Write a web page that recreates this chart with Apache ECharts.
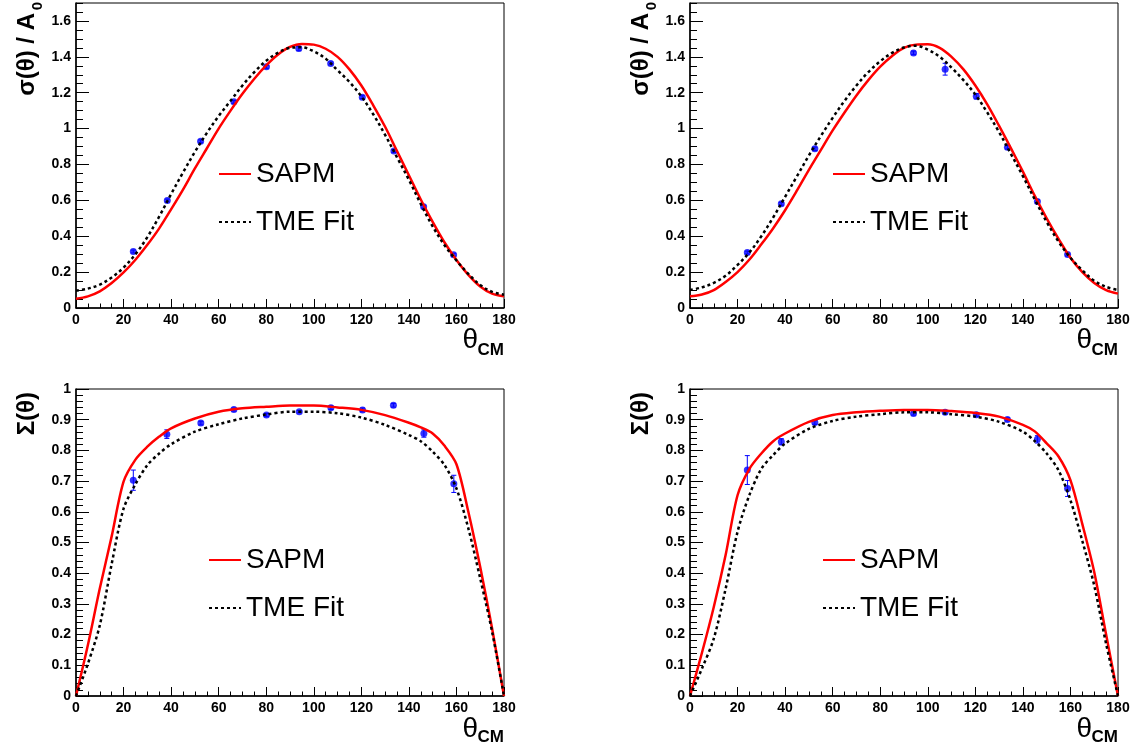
<!DOCTYPE html>
<html><head><meta charset="utf-8">
<script src="https://cdn.jsdelivr.net/npm/echarts@6/dist/echarts.min.js"></script>
<style>html,body{margin:0;padding:0;background:#fff}#c{width:1135px;height:754px}</style>
</head><body><div id="c"></div>
<script>
// ---------------- data ----------------
const thetaTop = [0,5,10,15,20,25,30,35,40,45,50,55,60,65,70,75,80,85,90,95,100,105,110,115,120,125,130,135,140,145,150,155,160,165,170,175,180];
const sapmTL = [0.052,0.065,0.093,0.139,0.198,0.269,0.352,0.444,0.55,0.66,0.778,0.889,1.0,1.10,1.194,1.278,1.352,1.413,1.455,1.472,1.468,1.445,1.40,1.33,1.24,1.13,1.01,0.875,0.74,0.605,0.48,0.365,0.268,0.185,0.12,0.08,0.065];
const tmeTL  = [0.096,0.108,0.13,0.17,0.225,0.30,0.395,0.51,0.635,0.755,0.87,0.975,1.07,1.155,1.24,1.315,1.378,1.423,1.45,1.453,1.43,1.39,1.325,1.26,1.18,1.08,0.965,0.84,0.715,0.58,0.455,0.35,0.265,0.19,0.128,0.09,0.074];
const sapmTR = [0.065,0.075,0.10,0.145,0.20,0.27,0.355,0.445,0.545,0.655,0.77,0.88,0.99,1.09,1.185,1.27,1.345,1.405,1.45,1.468,1.47,1.45,1.40,1.33,1.24,1.135,1.015,0.89,0.76,0.625,0.50,0.385,0.28,0.20,0.14,0.10,0.08];
const tmeTR  = [0.10,0.115,0.14,0.18,0.24,0.31,0.40,0.505,0.62,0.735,0.85,0.958,1.06,1.155,1.24,1.315,1.375,1.422,1.452,1.462,1.44,1.40,1.34,1.27,1.19,1.09,0.98,0.858,0.735,0.605,0.48,0.37,0.28,0.21,0.152,0.118,0.10];

const thetaBot = [0,5,10,15,20,25,30,35,40,50,60,70,80,90,100,110,120,130,140,145,150,155,160,165,170,175,180];
const sapmBL = [0,0.166,0.35,0.52,0.698,0.77,0.812,0.845,0.872,0.904,0.926,0.937,0.942,0.946,0.946,0.94,0.932,0.915,0.89,0.875,0.855,0.815,0.755,0.60,0.42,0.22,0];
const tmeBL  = [0,0.105,0.23,0.43,0.61,0.69,0.752,0.79,0.82,0.861,0.885,0.904,0.917,0.926,0.926,0.921,0.907,0.883,0.85,0.83,0.796,0.752,0.676,0.546,0.383,0.209,0];
const sapmBR = [0,0.14,0.29,0.46,0.654,0.74,0.79,0.83,0.855,0.893,0.915,0.924,0.929,0.932,0.932,0.928,0.922,0.91,0.883,0.862,0.823,0.78,0.703,0.56,0.404,0.20,0];
const tmeBR  = [0,0.089,0.187,0.35,0.535,0.655,0.74,0.785,0.822,0.87,0.896,0.91,0.918,0.924,0.924,0.918,0.91,0.893,0.861,0.83,0.79,0.735,0.638,0.505,0.36,0.17,0];

const ptThetaTL = [24.1,38.4,52.4,66.4,80.1,93.7,107.1,120.4,133.7,146.2,158.8];
const ptValTL   = [0.315,0.599,0.929,1.149,1.344,1.446,1.363,1.175,0.875,0.565,0.297];
const ptErrTL   = [0.008,0.008,0.008,0.008,0.008,0.012,0.008,0.008,0.008,0.008,0.008];
const ptThetaTR = [24.1,38.4,52.5,94.0,107.3,120.4,133.5,146.1,158.8];
const ptValTR   = [0.309,0.581,0.887,1.422,1.331,1.18,0.896,0.593,0.298];
const ptErrTR   = [0.008,0.008,0.01,0.01,0.033,0.015,0.01,0.01,0.008];
const ptThetaBL = [24.1,38.2,52.5,66.4,80.1,93.9,107.2,120.5,133.5,146.3,158.9];
const ptValBL   = [0.703,0.853,0.889,0.933,0.915,0.926,0.939,0.932,0.947,0.855,0.691];
const ptErrBL   = [0.033,0.014,0.006,0.005,0.005,0.004,0.006,0.006,0.006,0.012,0.028];
const ptThetaBR = [24.1,38.4,52.5,94.0,107.3,120.4,133.5,146.1,158.8];
const ptValBR   = [0.736,0.828,0.891,0.920,0.924,0.916,0.901,0.836,0.676];
const ptErrBR   = [0.047,0.01,0.006,0.005,0.005,0.005,0.005,0.012,0.026];

const legendNames = ['SAPM','TME Fit'];
const xTicks = {min:0, max:180, major:20, minor:5};
const yTicksTop = {min:0, max:1.7, major:0.2, minor:0.05};
const yTicksBot = {min:0, max:1, major:0.1, minor:0.02};

// ---------------- build ----------------
const FONT = "'Liberation Sans', Arial, Helvetica, sans-serif";
const panels = [
  {grid:{left:76, top:3, width:428, height:305}, th:thetaTop, sapm:sapmTL, tme:tmeTL, px:ptThetaTL, pv:ptValTL, pe:ptErrTL, yt:yTicksTop, leg:{left:218, top:158}},
  {grid:{left:690, top:3, width:428, height:305}, th:thetaTop, sapm:sapmTR, tme:tmeTR, px:ptThetaTR, pv:ptValTR, pe:ptErrTR, yt:yTicksTop, leg:{left:832, top:158}},
  {grid:{left:76, top:389, width:428, height:307}, th:thetaBot, sapm:sapmBL, tme:tmeBL, px:ptThetaBL, pv:ptValBL, pe:ptErrBL, yt:yTicksBot, leg:{left:208, top:544}},
  {grid:{left:690, top:389, width:428, height:307}, th:thetaBot, sapm:sapmBR, tme:tmeBR, px:ptThetaBR, pv:ptValBR, pe:ptErrBR, yt:yTicksBot, leg:{left:822, top:544}}
];

const grids=[], xAxes=[], yAxes=[], series=[], legends=[];
const labelStyle = {fontSize:14, fontWeight:'bold', color:'#000', fontFamily:FONT};

function errRender(params, api){
  const x = api.value(0), lo = api.value(1), hi = api.value(2);
  const p1 = api.coord([x, lo]), p2 = api.coord([x, hi]);
  const cw = 2.5, st = {stroke:'#0000ff', lineWidth:1};
  return {type:'group', children:[
    {type:'line', shape:{x1:p1[0],y1:p1[1],x2:p2[0],y2:p2[1]}, style:st},
    {type:'line', shape:{x1:p1[0]-cw,y1:p1[1],x2:p1[0]+cw,y2:p1[1]}, style:st},
    {type:'line', shape:{x1:p2[0]-cw,y1:p2[1],x2:p2[0]+cw,y2:p2[1]}, style:st}
  ]};
}

panels.forEach((p,i)=>{
  grids.push(Object.assign({show:true, borderColor:'#000', borderWidth:1, backgroundColor:'transparent'}, p.grid));
  xAxes.push({gridIndex:i, type:'value', position:'bottom', min:xTicks.min, max:xTicks.max, interval:xTicks.major,
    axisLine:{show:true, onZero:false, lineStyle:{color:'#000', width:1.5}},
    axisTick:{show:true, inside:true, length:9, lineStyle:{color:'#000', width:1}},
    axisLabel:Object.assign({margin:5}, labelStyle), splitLine:{show:false}});
  xAxes.push({gridIndex:i, type:'value', position:'bottom', min:xTicks.min, max:xTicks.max, interval:xTicks.minor,
    axisLine:{show:false}, axisTick:{show:true, inside:true, length:4.5, lineStyle:{color:'#000', width:1}},
    axisLabel:{show:false}, splitLine:{show:false}});
  yAxes.push({gridIndex:i, type:'value', position:'left', min:p.yt.min, max:p.yt.max, interval:p.yt.major,
    axisLine:{show:true, onZero:false, lineStyle:{color:'#000', width:1.5}},
    axisTick:{show:true, inside:true, length:13, lineStyle:{color:'#000', width:1}},
    axisLabel:Object.assign({margin:5, showMaxLabel: p.yt.max===1}, labelStyle), splitLine:{show:false}});
  yAxes.push({gridIndex:i, type:'value', position:'left', min:p.yt.min, max:p.yt.max, interval:p.yt.minor,
    axisLine:{show:false}, axisTick:{show:true, inside:true, length:7, lineStyle:{color:'#000', width:1}},
    axisLabel:{show:false}, splitLine:{show:false}});
  const xi = i*2, yi = i*2;
  series.push({name:'err'+i, type:'custom', xAxisIndex:xi, yAxisIndex:yi, renderItem:errRender,
    encode:{x:0, y:[1,2]}, z:1, silent:true,
    data:p.px.map((t,k)=>[t, p.pv[k]-p.pe[k], p.pv[k]+p.pe[k]])});
  series.push({name:'data'+i, type:'scatter', xAxisIndex:xi, yAxisIndex:yi, symbol:'circle', symbolSize:7,
    itemStyle:{color:'#0000ff'}, z:1, data:p.px.map((t,k)=>[t,p.pv[k]])});
  const sm = i<2 ? 0.35 : 0.3;
  series.push({name:legendNames[0], type:'line', xAxisIndex:xi, yAxisIndex:yi, symbol:'none', showSymbol:false, smooth:sm,
    lineStyle:{color:'#ff0000', width:2.5}, itemStyle:{color:'#ff0000'}, z:3,
    data:p.th.map((t,k)=>[t,p.sapm[k]])});
  series.push({name:legendNames[1], type:'line', xAxisIndex:xi, yAxisIndex:yi, symbol:'none', showSymbol:false, smooth:sm,
    lineStyle:{color:'#000', width:2.5, type:[3,3]}, itemStyle:{color:'#000'}, z:4,
    data:p.th.map((t,k)=>[t,p.tme[k]])});
  legends.push({data:legendNames, orient:'vertical', left:p.leg.left, top:p.leg.top, padding:0,
    itemWidth:32, itemHeight:14, itemGap:16, selectedMode:false,
    itemStyle:{opacity:0, borderWidth:0},
    textStyle:{fontSize:28, fontFamily:FONT, color:'#000', lineHeight:32}});
});

// axis titles
const graphics = [];
const offs = [[0,0],[614,0],[0,386],[614,386]];
offs.forEach((o,i)=>{
  const top = i<2;
  if (top) {
    graphics.push({type:'text', x:27+o[0], y:13+o[1], rotation:Math.PI/2,
      style:{text:'σ(θ) / A', font:"bold 24px "+FONT, fill:'#000', align:'right', verticalAlign:'middle'}});
    graphics.push({type:'text', x:38+o[0], y:2+o[1], rotation:Math.PI/2,
      style:{text:'0', font:"bold 15px "+FONT, fill:'#000', align:'right', verticalAlign:'middle'}});
  } else {
    graphics.push({type:'text', x:27+o[0], y:392, rotation:Math.PI/2,
      style:{text:'Σ(θ)', font:"bold 24px "+FONT, fill:'#000', align:'right', verticalAlign:'middle'}});
  }
  const right = 504 + o[0];
  const cmY = top ? 350 : 737;
  const thY = top ? 340 : 729;
  graphics.push({type:'text', x:right, y:cmY, style:{text:'CM', font:"bold 17px "+FONT, fill:'#000', align:'right', verticalAlign:'middle'}});
  graphics.push({type:'text', x:right-26, y:thY, style:{text:'θ', font:"28px "+FONT, fill:'#000', align:'right', verticalAlign:'middle'}});
});

const chart = echarts.init(document.getElementById('c'), null, {renderer:'canvas'});
chart.setOption({
  animation:false, backgroundColor:'#fff',
  grid:grids, xAxis:xAxes, yAxis:yAxes, series:series, legend:legends, graphic:graphics
});
</script></body></html>
